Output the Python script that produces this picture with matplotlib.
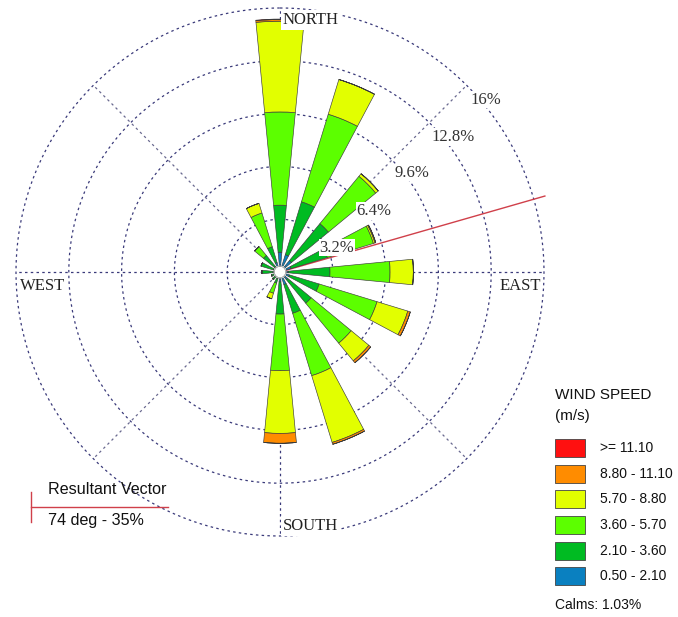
import numpy as np
import matplotlib.pyplot as plt
from matplotlib.patches import Rectangle
from matplotlib.lines import Line2D

# wind direction sectors (degrees clockwise from north)
directions = ['N', 'NNE', 'NE', 'ENE', 'E', 'ESE', 'SE', 'SSE',
              'S', 'SSW', 'SW', 'WSW', 'W', 'WNW', 'NW', 'NNW']
dir_deg = np.arange(16) * 22.5

# frequency (%) of each speed class per sector
spd_050_210 = [1.20, 1.10, 0.90, 0.70, 0.50, 0.60, 0.60, 0.80,
               0.60, 0.40, 0.35, 0.30, 0.40, 0.40, 0.40, 0.60]
spd_210_360 = [2.85, 3.35, 2.90, 2.30, 2.53, 1.88, 1.85, 1.82,
               1.95, 0.30, 0.25, 0.25, 0.70, 0.80, 0.90, 1.00]
spd_360_570 = [5.65, 5.55, 3.72, 2.92, 3.64, 3.67, 3.14, 3.95,
               3.43, 0.65, 0.00, 0.00, 0.00, 0.00, 0.70, 2.14]
spd_570_880 = [5.50, 2.20, 0.20, 0.10, 1.41, 1.95, 1.39, 4.23,
               3.80, 0.35, 0.00, 0.00, 0.00, 0.00, 0.00, 0.61]
spd_880_1110 = [0.10, 0.00, 0.00, 0.05, 0.00, 0.16, 0.15, 0.12,
                0.60, 0.00, 0.00, 0.00, 0.00, 0.00, 0.00, 0.00]
spd_ge_1110 = [0.03, 0.00, 0.00, 0.00, 0.00, 0.00, 0.00, 0.00,
               0.00, 0.00, 0.00, 0.00, 0.00, 0.00, 0.00, 0.00]

speed_series = [spd_050_210, spd_210_360, spd_360_570,
                spd_570_880, spd_880_1110, spd_ge_1110]
speed_colors = ['#0a80c0', '#00bb22', '#5cff00', '#e2ff00', '#ff8c00', '#ff1010']
speed_labels = ['0.50 - 2.10', '2.10 - 3.60', '3.60 - 5.70',
                '5.70 - 8.80', '8.80 - 11.10', '>= 11.10']

ring_values = [3.2, 6.4, 9.6, 12.8, 16.0]
ring_labels = ['3.2%', '6.4%', '9.6%', '12.8%', '16%']
ring_label_pos = [(67.0, 3.75), (57.0, 6.8), (53.0, 10.0), (52.0, 13.3), (50.0, 16.25)]

calms = 1.03
resultant_dir = 74
resultant_pct = 35

W, H = 678, 617


def fx(x):
    return x / W


def fy(y):
    return 1 - y / H


fig = plt.figure(figsize=(W / 100, H / 100), dpi=100)
ax = fig.add_axes([16 / W, 81 / H, 528 / W, 528 / H], projection='polar')
ax.set_theta_zero_location('N')
ax.set_theta_direction(-1)
ax.set_ylim(0, 16)
ax.set_xticks([])
ax.set_yticks([])
ax.grid(False)
ax.spines['polar'].set_visible(False)

# dotted rings and spokes
t = np.linspace(0, 2 * np.pi, 500)
for r in ring_values:
    ax.plot(t, np.full_like(t, r), color='#3a3a7a', lw=0.9,
            ls=(0, (2, 2.6)), zorder=1, clip_on=False)
for a in range(0, 360, 45):
    c = '#3a3a7a' if a % 90 == 0 else '#6a6a90'
    ax.plot([np.radians(a)] * 2, [0, 16], color=c, lw=0.9,
            ls=(0, (2, 2.6)), zorder=1, clip_on=False)

# resultant vector
ax.plot([np.radians(resultant_dir)] * 2, [0, 16.7], color='#d0404a',
        lw=1.0, zorder=2, clip_on=False)

# stacked bars
theta = np.radians(dir_deg)
width = np.radians(11)
bottom = np.zeros(16)
for vals, col in zip(speed_series, speed_colors):
    vals = np.array(vals)
    ax.bar(theta, vals, width=width, bottom=bottom, color=col,
           edgecolor='#3a3a3a', linewidth=0.45, zorder=3)
    bottom += vals

# calm circle
ax.fill(t, np.full_like(t, 0.34), color='white', zorder=4)
ax.plot(t, np.full_like(t, 0.34), color='#777777', lw=0.4, zorder=4)

# ring labels
for (deg, r), lab in zip(ring_label_pos, ring_labels):
    ax.text(np.radians(deg), r, lab, ha='center', va='center',
            family='Liberation Serif', fontsize=12, color='#333333',
            bbox=dict(facecolor='white', edgecolor='none', pad=0.5),
            zorder=6, clip_on=False)

# compass labels
compass = dict(family='Liberation Serif', fontsize=12, color='#222222')
fig.text(fx(283), fy(20), 'NORTH', ha='left', va='center',
         bbox=dict(facecolor='white', edgecolor='none', pad=1.5), **compass)
fig.text(fx(283), fy(526), 'SOUTH', ha='left', va='center',
         bbox=dict(facecolor='white', edgecolor='none', pad=1.5), **compass)
fig.text(fx(20), fy(286), 'WEST', ha='left', va='center', **compass)
fig.text(fx(500), fy(286), 'EAST', ha='left', va='center', **compass)

# legend
sans = dict(family='Liberation Sans', color='#111111')
fig.text(fx(555), fy(395), 'WIND SPEED', ha='left', va='center', fontsize=11, **sans)
fig.text(fx(555), fy(416), '(m/s)', ha='left', va='center', fontsize=11, **sans)
box_top = [439, 465, 490, 516, 542, 567]
for top, col, lab in zip(box_top, speed_colors[::-1], speed_labels[::-1]):
    fig.add_artist(Rectangle((fx(555), fy(top + 18)), 30 / W, 18 / H,
                             transform=fig.transFigure, facecolor=col,
                             edgecolor='#444444', lw=0.6))
    fig.text(fx(600), fy(top + 9), lab, ha='left', va='center', fontsize=10, **sans)
fig.text(fx(555), fy(605), 'Calms: %.2f%%' % calms, ha='left', va='center',
         fontsize=10, **sans)

# resultant vector key
fig.add_artist(Line2D([fx(31), fx(31)], [fy(492), fy(522)], color='#d0404a', lw=1.0))
fig.add_artist(Line2D([fx(31), fx(168)], [fy(507), fy(507)], color='#d0404a', lw=1.0))
fig.text(fx(48), fy(489), 'Resultant Vector', ha='left', va='center', fontsize=11.6, **sans)
fig.text(fx(48), fy(521), '%d deg - %d%%' % (resultant_dir, resultant_pct),
         ha='left', va='center', fontsize=11.6, **sans)

fig.savefig('out.png', dpi=100)
